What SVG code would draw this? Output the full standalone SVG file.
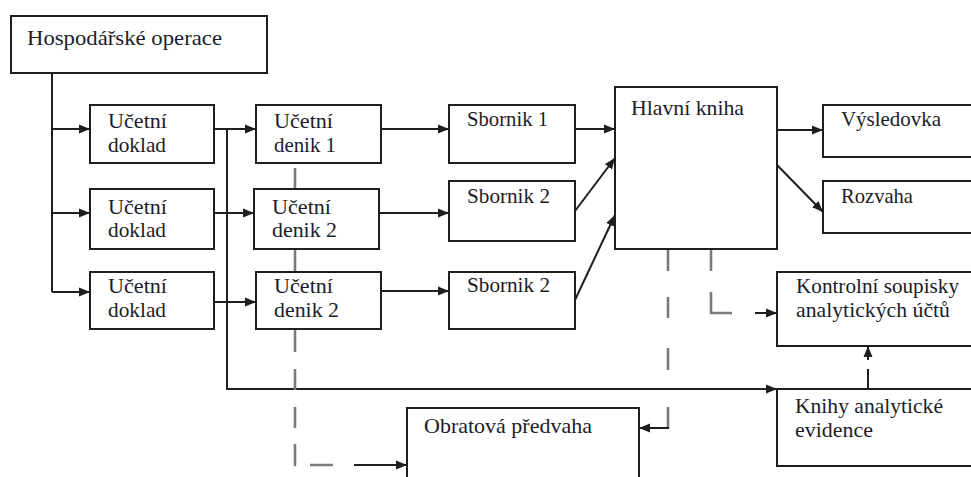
<svg xmlns="http://www.w3.org/2000/svg" width="971" height="477" viewBox="0 0 971 477">
<defs>
<style>
.box{fill:#fff;stroke:#1e1e1e;stroke-width:2}
.ln{fill:none;stroke:#1e1e1e;stroke-width:2}
.dash{fill:none;stroke:#7a7a7a;stroke-width:2.6}
.t{font-family:"Liberation Serif","Times New Roman",serif;font-size:21px;fill:#1c1c28}
</style>
<marker id="ah" markerUnits="userSpaceOnUse" markerWidth="11" markerHeight="10" viewBox="0 0 11 10" refX="11" refY="5" orient="auto">
<path d="M0,0.5 L11,5 L0,9.5 z" fill="#1e1e1e"/>
</marker>
</defs>
<rect width="971" height="477" fill="#fff"/>
<g id="connectors">
<path class="ln" d="M52,73 V292"/>
<path class="ln" d="M52,129 H90" marker-end="url(#ah)"/>
<path class="ln" d="M52,213 H90" marker-end="url(#ah)"/>
<path class="ln" d="M52,292 H90" marker-end="url(#ah)"/>
<path class="ln" d="M214,129 H256" marker-end="url(#ah)"/>
<path class="ln" d="M214,213 H254" marker-end="url(#ah)"/>
<path class="ln" d="M214,302 H256" marker-end="url(#ah)"/>
<path class="ln" d="M227,129 V389 H777" marker-end="url(#ah)"/>
<path class="ln" d="M381,129 H449" marker-end="url(#ah)"/>
<path class="ln" d="M379,213 H449" marker-end="url(#ah)"/>
<path class="ln" d="M381,291 H449" marker-end="url(#ah)"/>
<path class="ln" d="M575,129 H615" marker-end="url(#ah)"/>
<path class="ln" d="M575,211 L615,158" marker-end="url(#ah)"/>
<path class="ln" d="M575,300 L615,215" marker-end="url(#ah)"/>
<path class="ln" d="M777,130 H823" marker-end="url(#ah)"/>
<path class="ln" d="M777,165 L823,212" marker-end="url(#ah)"/>
<path class="ln" d="M868,389 V369"/>
<path class="ln" d="M868,360 V346" marker-end="url(#ah)"/>
<path class="dash" d="M295,168 V189 M295,250 V272 M295,330 V352 M295,369 V390 M295,407 V428 M295,444 V465 H296 M310,465 H333"/>
<path class="ln" d="M354,465 H407" marker-end="url(#ah)"/>
<path class="dash" d="M668,250 V271 M668,297 V318 M668,348 V370 M668,407 V428"/>
<path class="ln" d="M669,428 H639" marker-end="url(#ah)"/>
<path class="dash" d="M711,250 V271 M711,292 V313 H732"/>
<path class="ln" d="M755,313 H777" marker-end="url(#ah)"/>
</g>
<g id="hospodarske-operace">
<rect class="box" x="11" y="16" width="256" height="57"/>
<text class="t" x="27" y="45" textLength="195" lengthAdjust="spacingAndGlyphs">Hospodářské operace</text>
</g>
<g id="doklad1">
<rect class="box" x="90" y="105" width="124" height="58"/>
<text class="t" x="108" y="128" textLength="59" lengthAdjust="spacingAndGlyphs">Učetní</text>
<text class="t" x="108" y="152" textLength="58" lengthAdjust="spacingAndGlyphs">doklad</text>
</g>
<g id="doklad2">
<rect class="box" x="90" y="189" width="124" height="60"/>
<text class="t" x="108" y="214" textLength="59" lengthAdjust="spacingAndGlyphs">Učetní</text>
<text class="t" x="108" y="237" textLength="58" lengthAdjust="spacingAndGlyphs">doklad</text>
</g>
<g id="doklad3">
<rect class="box" x="90" y="272" width="124" height="57"/>
<text class="t" x="108" y="293" textLength="59" lengthAdjust="spacingAndGlyphs">Učetní</text>
<text class="t" x="108" y="317" textLength="58" lengthAdjust="spacingAndGlyphs">doklad</text>
</g>
<g id="denik1">
<rect class="box" x="256" y="105" width="125" height="58"/>
<text class="t" x="274" y="128" textLength="59" lengthAdjust="spacingAndGlyphs">Učetní</text>
<text class="t" x="274" y="152" textLength="62" lengthAdjust="spacingAndGlyphs">denik 1</text>
</g>
<g id="denik2">
<rect class="box" x="254" y="189" width="125" height="60"/>
<text class="t" x="272" y="214" textLength="59" lengthAdjust="spacingAndGlyphs">Učetní</text>
<text class="t" x="272" y="237" textLength="65" lengthAdjust="spacingAndGlyphs">denik 2</text>
</g>
<g id="denik3">
<rect class="box" x="256" y="272" width="125" height="57"/>
<text class="t" x="274" y="293" textLength="59" lengthAdjust="spacingAndGlyphs">Učetní</text>
<text class="t" x="274" y="317" textLength="65" lengthAdjust="spacingAndGlyphs">denik 2</text>
</g>
<g id="sbornik1">
<rect class="box" x="449" y="105" width="126" height="58"/>
<text class="t" x="467" y="126" textLength="81" lengthAdjust="spacingAndGlyphs">Sbornik 1</text>
</g>
<g id="sbornik2">
<rect class="box" x="449" y="181" width="126" height="60"/>
<text class="t" x="467" y="203" textLength="83" lengthAdjust="spacingAndGlyphs">Sbornik 2</text>
</g>
<g id="sbornik3">
<rect class="box" x="449" y="272" width="126" height="57"/>
<text class="t" x="467" y="292" textLength="83" lengthAdjust="spacingAndGlyphs">Sbornik 2</text>
</g>
<g id="hlavni-kniha">
<rect class="box" x="615" y="87" width="162" height="162"/>
<text class="t" x="631" y="115" textLength="113" lengthAdjust="spacingAndGlyphs">Hlavní kniha</text>
</g>
<g id="vysledovka">
<rect class="box" x="823" y="105" width="160" height="52"/>
<text class="t" x="841" y="126" textLength="100" lengthAdjust="spacingAndGlyphs">Výsledovka</text>
</g>
<g id="rozvaha">
<rect class="box" x="823" y="181" width="160" height="52"/>
<text class="t" x="841" y="203" textLength="72" lengthAdjust="spacingAndGlyphs">Rozvaha</text>
</g>
<g id="kontrolni-soupisky">
<rect class="box" x="777" y="272" width="206" height="74"/>
<text class="t" x="796" y="293" textLength="163" lengthAdjust="spacingAndGlyphs">Kontrolní soupisky</text>
<text class="t" x="796" y="317" textLength="154" lengthAdjust="spacingAndGlyphs">analytických účtů</text>
</g>
<g id="knihy-analyticke-evidence">
<rect class="box" x="777" y="389" width="206" height="77"/>
<text class="t" x="795" y="413" textLength="148" lengthAdjust="spacingAndGlyphs">Knihy analytické</text>
<text class="t" x="795" y="437" textLength="78" lengthAdjust="spacingAndGlyphs">evidence</text>
</g>
<g id="obratova-predvaha">
<rect class="box" x="407" y="408" width="232" height="80"/>
<text class="t" x="424" y="433" textLength="168" lengthAdjust="spacingAndGlyphs">Obratová předvaha</text>
</g>
</svg>
